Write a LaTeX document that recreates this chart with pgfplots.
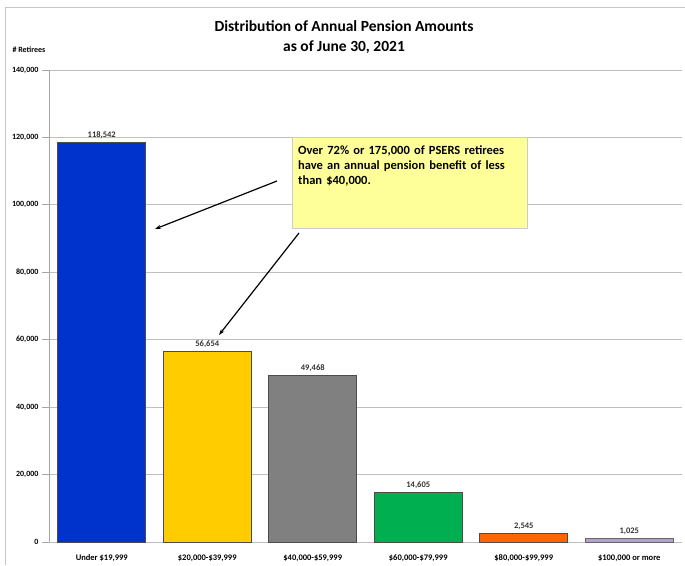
\documentclass[border=0pt]{standalone}
\usepackage{pgfplots}
\pgfplotsset{compat=1.18}
\usepackage{fontspec}
\setmainfont{Carlito}
\usetikzlibrary{arrows.meta}
\definecolor{cBlue}{RGB}{0,51,204}
\definecolor{cYellow}{RGB}{255,204,0}
\definecolor{cGray}{RGB}{128,128,128}
\definecolor{cGreen}{RGB}{0,176,80}
\definecolor{cOrange}{RGB}{255,102,0}
\definecolor{cLav}{RGB}{178,162,199}
\definecolor{noteYellow}{RGB}{255,255,153}
\begin{document}
\begin{tikzpicture}[x=1pt,y=1pt]
\begin{axis}[
  at={(49pt,23pt)}, anchor=south west,
  scale only axis, width=633pt, height=472pt,
  xmin=-0.5, xmax=5.5, ymin=0, ymax=140000,
  ybar, bar width=88pt, bar shift=0pt,
  ytick={0,20000,...,140000},
  scaled y ticks=false,
  /pgf/number format/.cd, fixed, 1000 sep={,}, assume math mode=true, /pgfplots/.cd,
  yticklabel style={font=\bfseries\fontsize{8}{9}\selectfont},
  xtick={0,...,5},
  xticklabels={{Under \$19,999}, {\$20,000-\$39,999}, {\$40,000-\$59,999},
               {\$60,000-\$79,999}, {\$80,000-\$99,999}, {\$100,000 or more}},
  xticklabel style={font=\bfseries\fontsize{8.5}{9}\selectfont, yshift=-2pt},
  separate axis lines,
  axis y line*=left,
  x axis line style={draw=none},
  y axis line style={draw=gray!70, line width=0.8pt},
  x tick style={draw=none},
  y tick style={draw=gray!70, line width=0.8pt},
  tick align=outside, major tick length=7pt,
  ymajorgrids, grid style={gray!50, line width=0.8pt},
  nodes near coords,
  nodes near coords style={font=\bfseries\fontsize{8.5}{9}\selectfont, text=black!80},
]
\addplot[fill=cBlue, draw=black!70, line width=0.6pt] coordinates {(0,118542)};
\addplot[fill=cYellow, draw=black!70, line width=0.6pt] coordinates {(1,56654)};
\addplot[fill=cGray, draw=black!70, line width=0.6pt] coordinates {(2,49468)};
\addplot[fill=cGreen, draw=black!70, line width=0.6pt] coordinates {(3,14605)};
\addplot[fill=cOrange, draw=black!70, line width=0.6pt] coordinates {(4,2545)};
\addplot[fill=cLav, draw=black!60, line width=0.6pt] coordinates {(5,1025)};
\end{axis}
\pgfresetboundingbox
\path[use as bounding box] (0,0) rectangle (685,565);
\draw[gray!45, line width=0.8pt] (5,0) -- (5,558) -- (685,558);
\node[font=\bfseries\fontsize{15.5}{20}\selectfont, align=center] at (344,528)
  {Distribution of Annual Pension Amounts\\as of June 30, 2021};
\node[font=\bfseries\fontsize{8}{9}\selectfont, anchor=west] at (9,515) {\# Retirees};
\draw[fill=noteYellow, draw=gray!40, line width=0.6pt] (292,337) rectangle (527,428);
\node[anchor=north west, align=left, text width=228, inner sep=0pt,
      font=\bfseries\fontsize{12.5}{15}\selectfont] at (298,419)
  {Over 72\% or 175,000 of PSERS retirees have an annual pension benefit of less than \$40,000.};
\draw[-{Stealth[length=6pt,width=4pt]}, line width=1.2pt] (277,384) -- (155,336);
\draw[-{Stealth[length=6pt,width=4pt]}, line width=1.2pt] (299,332) -- (219,230);
\end{tikzpicture}
\end{document}
